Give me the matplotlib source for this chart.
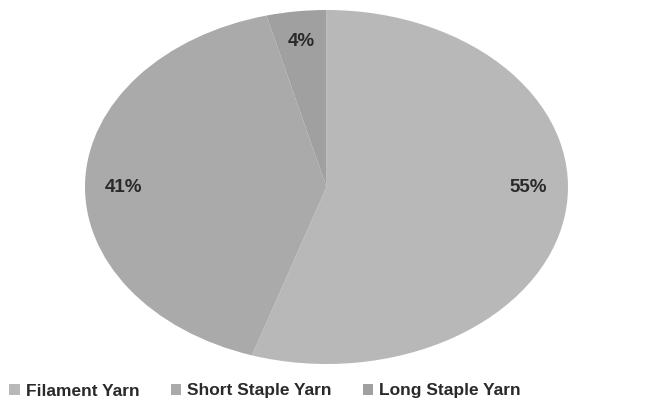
import matplotlib
matplotlib.use("Agg")
import matplotlib.pyplot as plt

categories = ["Filament Yarn", "Short Staple Yarn", "Long Staple Yarn"]
values = [55, 41, 4]
colors = ["#b8b8b8", "#aaaaaa", "#a0a0a0"]

plt.rcParams['font.family'] = ['Liberation Sans', 'DejaVu Sans']

fig = plt.figure(figsize=(6.53, 4.09), dpi=100)
W, H = 653, 409
ax = fig.add_axes([85 / W, (H - 364) / H, 483 / W, 354 / H])
wedges, texts, autotexts = ax.pie(values, colors=colors, startangle=90, counterclock=False,
                                  autopct='%d%%', pctdistance=0.83, radius=1,
                                  wedgeprops=dict(linewidth=0),
                                  textprops=dict(fontsize=13.5, color='#2a2a2a', weight='bold'))
autotexts[0].set_position((0.835, 0.0))
autotexts[1].set_position((-0.84, 0.0))
ax.set_aspect('auto')
ax.set_xlim(-1, 1)
ax.set_ylim(-1, 1)

leg = fig.legend(wedges, categories, loc='center', ncol=3, frameon=False,
                 bbox_to_anchor=(265 / W, 1 - 391 / H),
                 prop=dict(size=12.5, weight='bold'), handlelength=0.6, handleheight=0.6,
                 handletextpad=0.35, columnspacing=1.8)
for t in leg.get_texts():
    t.set_color('#2a2a2a')
fig.savefig("out.png", dpi=100)
